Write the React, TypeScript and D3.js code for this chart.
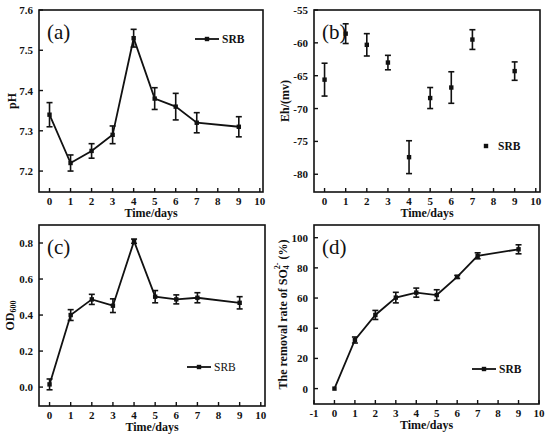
import React, { useEffect, useRef } from 'react';
import * as d3 from 'd3';

const days = [0, 1, 2, 3, 4, 5, 6, 7, 9];

const phValues = [7.34, 7.22, 7.25, 7.29, 7.53, 7.38, 7.36, 7.32, 7.31];
const phErrors = [0.03, 0.02, 0.018, 0.022, 0.022, 0.027, 0.033, 0.025, 0.025];

const ehValues = [-65.6, -58.6, -60.3, -63.0, -77.4, -68.4, -66.8, -59.5, -64.3];
const ehErrors = [2.5, 1.5, 1.7, 1.1, 2.5, 1.6, 2.4, 1.5, 1.4];

const odValues = [0.015, 0.40, 0.487, 0.452, 0.81, 0.502, 0.487, 0.496, 0.468];
const odErrors = [0.03, 0.03, 0.028, 0.038, 0.012, 0.034, 0.025, 0.028, 0.034];

const removalValues = [0, 32.2, 48.8, 60.3, 63.6, 62.0, 74.0, 88.0, 92.3];
const removalErrors = [0, 2, 3, 3.5, 3, 3.5, 1, 2, 3];

const xTicksTop = [0, 1, 2, 3, 4, 5, 6, 7, 8, 9, 10];
const xTicksD = [-1, 0, 1, 2, 3, 4, 5, 6, 7, 8, 9, 10];
const phTicks = [7.2, 7.3, 7.4, 7.5, 7.6];
const ehTicks = [-80, -75, -70, -65, -60, -55];
const odTicks = [0.0, 0.2, 0.4, 0.6, 0.8];
const removalTicks = [0, 20, 40, 60, 80, 100];

const FONT = '"Liberation Serif", "Times New Roman", serif';

interface Panel {
  box: [number, number, number, number]; // left, top, right, bottom
  xDomain: [number, number];
  yDomain: [number, number];
  xTicks: number[];
  yTicks: number[];
  yFmt: (d: number) => string;
  values: number[];
  errors: number[];
  connect: boolean;
  tag: string;
  legend: { x: number; y: number; bold: boolean };
  ylabel: (g: d3.Selection<SVGTextElement, unknown, null, undefined>) => void;
  ylabelX: number;
}

const App: React.FC = () => {
  const svgRef = useRef<SVGSVGElement>(null);

  useEffect(() => {
    if (!svgRef.current) return;
    const svg = d3.select(svgRef.current);
    svg.selectAll('*').remove();

    const panels: Panel[] = [
      {
        box: [39, 10, 263, 192], xDomain: [-0.5, 10.15], yDomain: [7.148, 7.6],
        xTicks: xTicksTop, yTicks: phTicks, yFmt: d3.format('.1f'),
        values: phValues, errors: phErrors, connect: true, tag: '(a)',
        legend: { x: 207, y: 39, bold: true },
        ylabel: t => { t.text('pH'); }, ylabelX: 13,
      },
      {
        box: [314, 10, 540, 192], xDomain: [-0.5, 10.2], yDomain: [-82.7, -55],
        xTicks: xTicksTop, yTicks: ehTicks, yFmt: d => String(d),
        values: ehValues, errors: ehErrors, connect: false, tag: '(b)',
        legend: { x: 486, y: 146, bold: true },
        ylabel: t => { t.text('Eh/(mv)'); }, ylabelX: 286,
      },
      {
        box: [39, 225, 265, 406], xDomain: [-0.5, 10.2], yDomain: [-0.105, 0.9],
        xTicks: xTicksTop, yTicks: odTicks, yFmt: d3.format('.1f'),
        values: odValues, errors: odErrors, connect: true, tag: '(c)',
        legend: { x: 199, y: 367, bold: false },
        ylabel: t => {
          t.append('tspan').text('OD');
          t.append('tspan').attr('font-size', 8).attr('dy', 3).text('600');
        }, ylabelX: 11,
      },
      {
        box: [314, 225, 539, 404], xDomain: [-1, 10], yDomain: [-10.2, 108.4],
        xTicks: xTicksD, yTicks: removalTicks, yFmt: d => String(d),
        values: removalValues, errors: removalErrors, connect: true, tag: '(d)',
        legend: { x: 484, y: 369, bold: true },
        ylabel: t => {
          t.append('tspan').text('The removal rate of SO');
          t.append('tspan').attr('font-size', 8).attr('dy', 3).text('4');
          t.append('tspan').attr('font-size', 8).attr('dy', -9).attr('dx', -4).text('2-');
          t.append('tspan').attr('dy', 6).text(' (%)');
        }, ylabelX: 284,
      },
    ];

    panels.forEach(p => {
      const [l, t, r, b] = p.box;
      const x = d3.scaleLinear().domain(p.xDomain).range([l, r]);
      const y = d3.scaleLinear().domain(p.yDomain).range([b, t]);
      const g = svg.append('g');

      // frame
      g.append('rect').attr('x', l).attr('y', t).attr('width', r - l).attr('height', b - t)
        .attr('fill', 'none').attr('stroke', '#111').attr('stroke-width', 1.6);

      // x ticks (inward)
      p.xTicks.forEach(v => {
        g.append('line').attr('x1', x(v)).attr('x2', x(v)).attr('y1', b).attr('y2', b - 4)
          .attr('stroke', '#111').attr('stroke-width', 1.4);
        g.append('text').attr('x', x(v)).attr('y', b + 13).attr('text-anchor', 'middle')
          .attr('font-family', FONT).attr('font-weight', 'bold').attr('font-size', 11)
          .attr('fill', '#111').text(String(v));
      });

      // y ticks (inward)
      p.yTicks.forEach(v => {
        g.append('line').attr('x1', l).attr('x2', l + 4).attr('y1', y(v)).attr('y2', y(v))
          .attr('stroke', '#111').attr('stroke-width', 1.4);
        g.append('text').attr('x', l - 6).attr('y', y(v) + 4).attr('text-anchor', 'end')
          .attr('font-family', FONT).attr('font-weight', 'bold').attr('font-size', 11)
          .attr('fill', '#111').text(p.yFmt(v));
      });

      // axis titles
      g.append('text').attr('x', (l + r) / 2).attr('y', b + 25).attr('text-anchor', 'middle')
        .attr('font-family', FONT).attr('font-weight', 'bold').attr('font-size', 12)
        .attr('fill', '#111').text('Time/days');
      const yl = g.append('text')
        .attr('transform', `translate(${p.ylabelX},${(t + b) / 2}) rotate(-90)`)
        .attr('text-anchor', 'middle').attr('dominant-baseline', 'middle')
        .attr('font-family', FONT).attr('font-weight', 'bold').attr('font-size', 12)
        .attr('fill', '#111');
      p.ylabel(yl);

      // panel tag
      g.append('text').attr('x', l + 8).attr('y', t + 29)
        .attr('font-family', FONT).attr('font-size', 21).attr('fill', '#111').text(p.tag);

      // line
      if (p.connect) {
        const line = d3.line<number>().x((_, i) => x(days[i])).y(d => y(d));
        g.append('path').attr('d', line(p.values) || '').attr('fill', 'none')
          .attr('stroke', '#111').attr('stroke-width', 1.8).attr('stroke-linejoin', 'miter');
      }

      // error bars + markers
      p.values.forEach((v, i) => {
        const cx = x(days[i]);
        const e = p.errors[i];
        if (e > 0) {
          const y1 = y(v + e);
          const y2 = y(v - e);
          g.append('line').attr('x1', cx).attr('x2', cx).attr('y1', y1).attr('y2', y2)
            .attr('stroke', '#111').attr('stroke-width', 1.6);
          [y1, y2].forEach(yy => {
            g.append('line').attr('x1', cx - 3).attr('x2', cx + 3).attr('y1', yy).attr('y2', yy)
              .attr('stroke', '#111').attr('stroke-width', 1.6);
          });
        }
        g.append('rect').attr('x', cx - 2.2).attr('y', y(v) - 2.2).attr('width', 4.4).attr('height', 4.4)
          .attr('fill', '#111');
      });

      // legend
      const lg = p.legend;
      if (p.connect) {
        g.append('line').attr('x1', lg.x - 12).attr('x2', lg.x + 12).attr('y1', lg.y).attr('y2', lg.y)
          .attr('stroke', '#111').attr('stroke-width', 1.8);
      }
      g.append('rect').attr('x', lg.x - 2.2).attr('y', lg.y - 2.2).attr('width', 4.4).attr('height', 4.4)
        .attr('fill', '#111');
      g.append('text').attr('x', lg.x + (p.connect ? 15 : 12)).attr('y', lg.y + 4)
        .attr('font-family', FONT).attr('font-weight', lg.bold ? 'bold' : 'normal').attr('font-size', 11.5)
        .attr('fill', '#111').text('SRB');
    });
  }, []);

  return (
    <svg ref={svgRef} width={550} height={437}
      style={{ position: 'absolute', left: 0, top: 0, background: '#fff' }} />
  );
};

export default App;
